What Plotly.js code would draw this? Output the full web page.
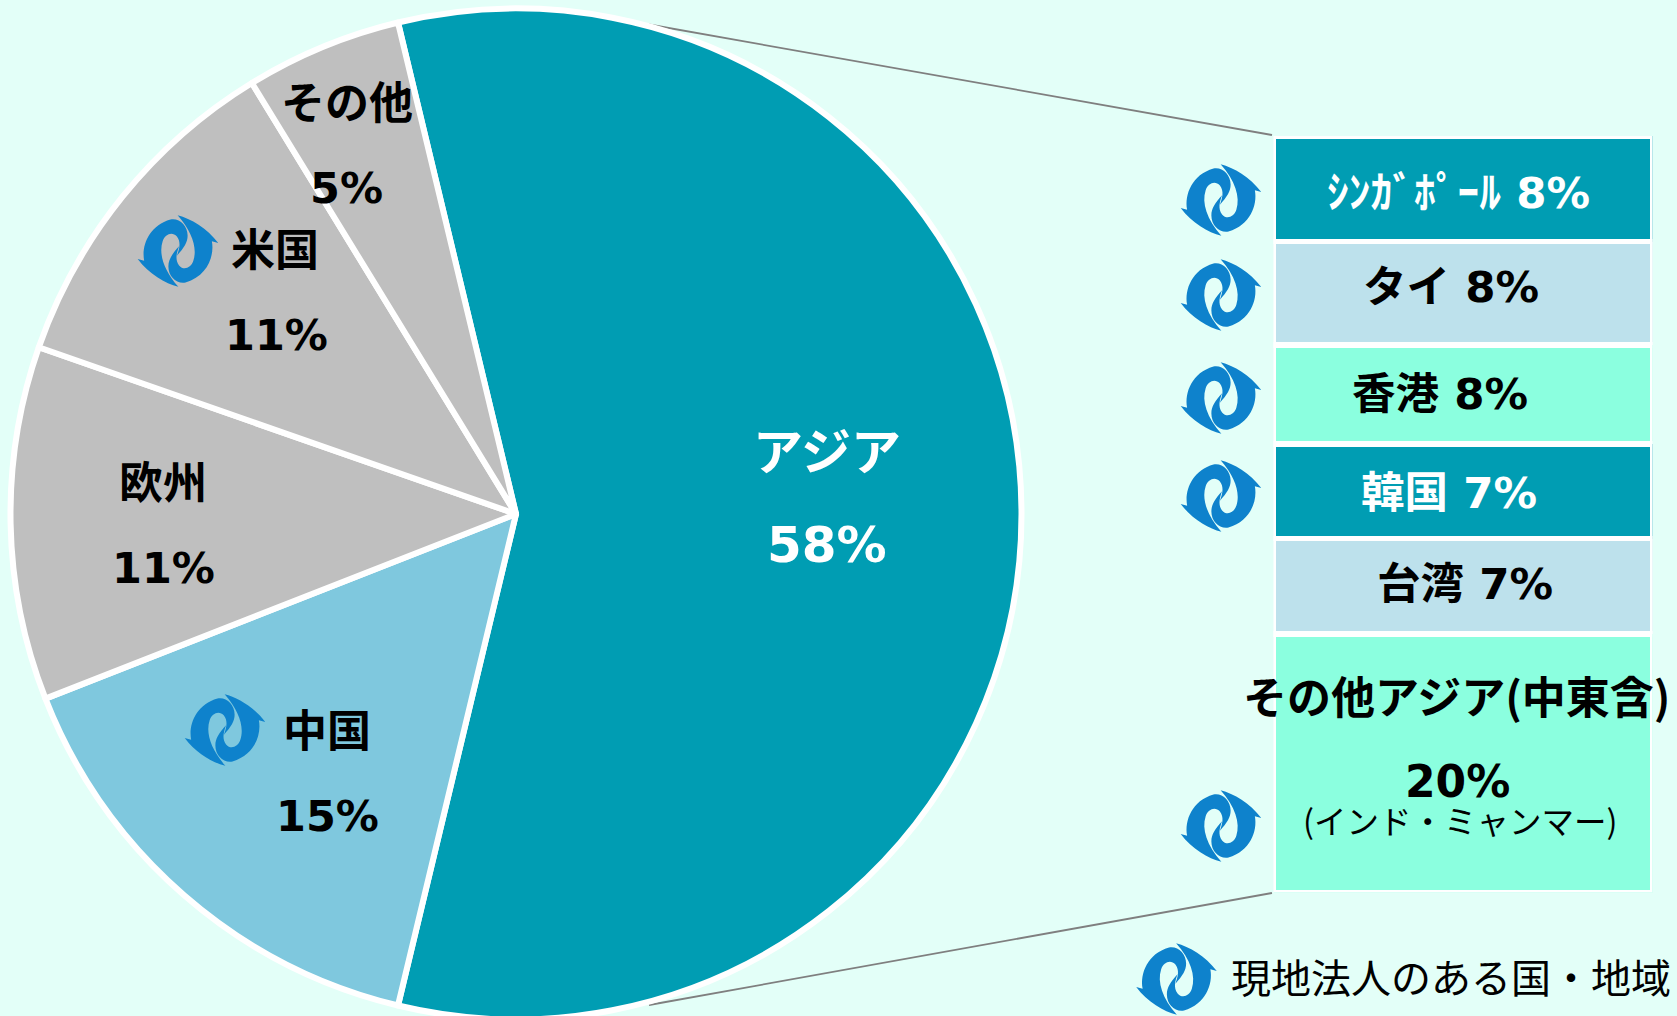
<!DOCTYPE html>
<html lang="ja">
<head>
<meta charset="utf-8">
<script src="https://cdn.plot.ly/plotly-3.0.1.min.js"></script>
<style>html,body{margin:0;padding:0;background:#E3FFF8;overflow:hidden}</style>
</head>
<body>
<div id="chart" style="width:1677px;height:1016px;overflow:hidden"></div>
<script>
const W = 1677, H = 1030;

// Pie data
const pieLabels = ["アジア", "中国", "欧州", "米国", "その他"];
const pieValues = [57.5, 15.3, 11.3, 10.9, 5.0];
const pieColors = ["#009DB3", "#7FC8DE", "#BFBFBF", "#BFBFBF", "#BFBFBF"];
const pieTextColors = ["#FFFFFF", "#000000", "#000000", "#000000", "#000000"];

// Breakdown column data (top to bottom)
const barLabels = ["ｼﾝｶﾞﾎﾟｰﾙ 8%", "タイ 8%", "香港 8%", "韓国 7%", "台湾 7%"];
const barValues = [8.1, 7.9, 7.6, 7.25, 7.3, 19.8];
const barColors = ["#009DB3", "#BDE1EC", "#8BFFDF", "#009DB3", "#BDE1EC", "#8BFFDF"];
const barTextColors = ["#FFFFFF", "#000000", "#000000", "#FFFFFF", "#000000"];
const lastBarTitle = "その他アジア(中東含)";
const lastBarValue = "20%";
const lastBarNote = "(インド・ミャンマー)";
const legendText = "現地法人のある国・地域";

// Layout positions in pixels
const piePos = [[827, 448, 827, 545], [327, 727.5, 327, 816], [162.5, 480, 163.5, 568], [275, 247, 276, 335], [346.5, 100, 346.5, 188]];
const barPos = [[1458, 192.5], [1451, 287], [1440, 393.5], [1449, 493], [1465, 584]];
const logoPos = [[1221, 200], [1221, 295], [1221, 398], [1221, 496], [1221, 826], [1176.5, 979], [178, 251], [225, 730]];

const FONT = '"DejaVu Sans","Noto Sans CJK JP",sans-serif';
const JP = '"Noto Sans CJK JP",sans-serif';
const px = x => x / W, py = y => 1 - y / H;

function note(x, y, text, size, color, family) {
  return {xref: "paper", yref: "paper", x: px(x), y: py(y), xanchor: "center", yanchor: "middle",
    text, showarrow: false, font: {size, color, family: family || FONT}};
}

const annotations = [];
pieLabels.forEach((lab, i) => {
  const p = piePos[i], big = i === 0;
  annotations.push(note(p[0], p[1], "<b>" + lab + "</b>", big ? 50 : 44, pieTextColors[i], JP));
  annotations.push(note(p[2], p[3], "<b>" + Math.round(pieValues[i]) + "%</b>", big ? 50 : 43, pieTextColors[i]));
});
barLabels.forEach((lab, i) => {
  annotations.push(note(barPos[i][0], barPos[i][1], "<b>" + lab + "</b>", 43.5, barTextColors[i]));
});
annotations.push(note(1457, 695, "<b>" + lastBarTitle + "</b>", 44, "#000000", JP));
annotations.push(note(1457, 781, "<b>" + lastBarValue + "</b>", 44, "#000000"));
annotations.push(note(1460, 819, lastBarNote, 32.5, "#000000", JP));
annotations.push(note(1451, 975.5, legendText, 40, "#000000", JP));

const half = "M132 228 C95 218 50 190 18 145 L36 150 C28 105 50 45 110 27 C135 22 158 45 158 75 C158 95 148 112 128 135 C135 115 140 95 128 78 C115 62 95 70 88 92 C76 130 92 180 132 228 Z";
const logoSvg = `<svg xmlns="http://www.w3.org/2000/svg" viewBox="16 12 230 218" width="82" height="73" preserveAspectRatio="none"><g fill="#0E82CC"><path d="${half}"/><path transform="rotate(180 131 121)" d="${half}"/></g></svg>`;
const logoUri = "data:image/svg+xml;charset=utf-8," + encodeURIComponent(logoSvg);
const images = logoPos.map(p => ({source: logoUri, xref: "paper", yref: "paper", x: px(p[0]), y: py(p[1]),
  sizex: 82 / W, sizey: 73 / H, xanchor: "center", yanchor: "middle", sizing: "stretch", layer: "above"}));

const connector = (x0, y0, x1, y1) => ({type: "line", xref: "paper", yref: "paper", x0: px(x0), y0: py(y0), x1: px(x1), y1: py(y1),
  line: {color: "#7F7F7F", width: 1.8}, layer: "below"});

const traces = [{
  type: "pie", labels: pieLabels, values: pieValues, sort: false, direction: "clockwise", rotation: -13.5,
  marker: {colors: pieColors, line: {color: "#FFFFFF", width: 6}}, textinfo: "none", showlegend: false,
  hoverinfo: "label+percent", domain: {x: [px(516 - 505.5), px(516 + 505.5)], y: [py(514 + 505.5), py(514 - 505.5)]}
}];
const barNames = barLabels.concat([lastBarTitle]);
barValues.forEach((v, i) => traces.push({
  type: "bar", x: [""], y: [v], name: barNames[i], marker: {color: barColors[i], line: {color: "#FFFFFF", width: 5.5}},
  cliponaxis: false, showlegend: false, hoverinfo: "name"
}));

Plotly.newPlot("chart", traces, {
  width: W, height: H, margin: {l: 0, r: 0, t: 0, b: 0}, paper_bgcolor: "#E3FFF8", plot_bgcolor: "rgba(0,0,0,0)",
  barmode: "stack", bargap: 0, showlegend: false,
  xaxis: {visible: false, domain: [px(1273.5), px(1652.5)], fixedrange: true},
  yaxis: {visible: false, domain: [py(892.5), py(136)], range: [barValues.reduce((a, b) => a + b, 0), 0], fixedrange: true},
  shapes: [connector(649, 24.5, 1272, 135), connector(649, 1005, 1272, 893)],
  annotations, images
}, {displayModeBar: false, staticPlot: true});
</script>
</body>
</html>
